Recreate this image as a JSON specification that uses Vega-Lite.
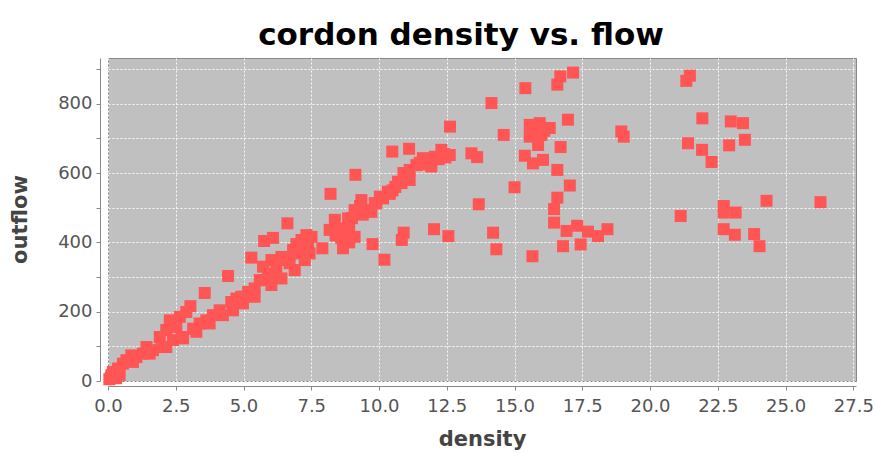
{
  "$schema": "https://vega.github.io/schema/vega-lite/v6.json",
  "autosize": {"type": "none"},
  "padding": {"left": 108, "top": 58, "right": 19, "bottom": 72},
  "width": 748,
  "height": 323,
  "background": "white",
  "title": {
    "text": "cordon density vs. flow",
    "font": "DejaVu Sans",
    "fontSize": 31,
    "fontWeight": "bold",
    "color": "#000000",
    "anchor": "middle",
    "baseline": "alphabetic",
    "offset": 15,
    "dy": 33,
    "dx": -21
  },
  "config": {
    "view": {"stroke": "#888888", "strokeWidth": 1, "fill": "#c0c0c0"},
    "axis": {
      "labelFont": "DejaVu Sans",
      "labelFontSize": 18,
      "labelColor": "#555555",
      "titleFont": "DejaVu Sans",
      "titleFontSize": 21,
      "titleFontWeight": "bold",
      "titleColor": "#444444",
      "domainColor": "#888888",
      "tickColor": "#888888",
      "gridColor": "#ffffff",
      "gridDash": [2, 2],
      "gridOpacity": 0.9,
      "gridWidth": 1
    }
  },
  "data": {
    "values": [
      {"density": 21.47, "outflow": 881}, {"density": 21.34, "outflow": 866}, {"density": 21.93, "outflow": 758},
      {"density": 22.98, "outflow": 749}, {"density": 23.43, "outflow": 744}, {"density": 21.40, "outflow": 686},
      {"density": 23.50, "outflow": 696}, {"density": 22.92, "outflow": 680}, {"density": 21.92, "outflow": 667},
      {"density": 22.27, "outflow": 632}, {"density": 24.30, "outflow": 520}, {"density": 26.29, "outflow": 516},
      {"density": 21.13, "outflow": 476}, {"density": 22.72, "outflow": 505}, {"density": 22.72, "outflow": 486},
      {"density": 23.16, "outflow": 486}, {"density": 22.72, "outflow": 438}, {"density": 23.13, "outflow": 422},
      {"density": 23.84, "outflow": 424}, {"density": 24.04, "outflow": 389},
      {"density": 17.16, "outflow": 890}, {"density": 16.69, "outflow": 879}, {"density": 16.58, "outflow": 855},
      {"density": 15.40, "outflow": 845}, {"density": 16.97, "outflow": 754}, {"density": 18.94, "outflow": 720},
      {"density": 19.03, "outflow": 705}, {"density": 15.56, "outflow": 739}, {"density": 15.93, "outflow": 744},
      {"density": 16.30, "outflow": 730}, {"density": 15.56, "outflow": 705}, {"density": 15.99, "outflow": 710},
      {"density": 15.87, "outflow": 681}, {"density": 15.68, "outflow": 720}, {"density": 15.75, "outflow": 725},
      {"density": 16.10, "outflow": 722}, {"density": 16.70, "outflow": 675}, {"density": 15.38, "outflow": 650},
      {"density": 15.68, "outflow": 628}, {"density": 16.05, "outflow": 638}, {"density": 16.58, "outflow": 609},
      {"density": 15.00, "outflow": 559}, {"density": 17.04, "outflow": 564}, {"density": 16.58, "outflow": 529},
      {"density": 16.46, "outflow": 496}, {"density": 16.46, "outflow": 457}, {"density": 16.92, "outflow": 433},
      {"density": 17.31, "outflow": 448}, {"density": 17.71, "outflow": 431}, {"density": 18.08, "outflow": 418},
      {"density": 18.43, "outflow": 438}, {"density": 16.79, "outflow": 389}, {"density": 17.44, "outflow": 394},
      {"density": 15.66, "outflow": 360},
      {"density": 14.15, "outflow": 802}, {"density": 12.62, "outflow": 734}, {"density": 14.60, "outflow": 710},
      {"density": 10.49, "outflow": 662}, {"density": 11.11, "outflow": 670}, {"density": 13.41, "outflow": 657},
      {"density": 13.62, "outflow": 646}, {"density": 12.61, "outflow": 652}, {"density": 12.30, "outflow": 667},
      {"density": 12.06, "outflow": 647}, {"density": 11.81, "outflow": 638}, {"density": 11.62, "outflow": 643},
      {"density": 11.93, "outflow": 619}, {"density": 11.38, "outflow": 623}, {"density": 11.13, "outflow": 609},
      {"density": 10.95, "outflow": 590}, {"density": 10.83, "outflow": 571}, {"density": 11.13, "outflow": 580},
      {"density": 10.33, "outflow": 546}, {"density": 10.15, "outflow": 527}, {"density": 9.90, "outflow": 513},
      {"density": 9.72, "outflow": 488}, {"density": 12.40, "outflow": 655}, {"density": 11.50, "outflow": 630},
      {"density": 11.00, "outflow": 600}, {"density": 10.60, "outflow": 560}, {"density": 10.50, "outflow": 550},
      {"density": 12.20, "outflow": 640}, {"density": 13.68, "outflow": 510}, {"density": 10.91, "outflow": 428},
      {"density": 10.84, "outflow": 407}, {"density": 12.03, "outflow": 438}, {"density": 12.56, "outflow": 418},
      {"density": 14.21, "outflow": 428}, {"density": 14.33, "outflow": 380}, {"density": 9.76, "outflow": 395},
      {"density": 10.20, "outflow": 350}, {"density": 10.70, "outflow": 575}, {"density": 10.40, "outflow": 540},
      {"density": 10.90, "outflow": 600}, {"density": 11.70, "outflow": 625}, {"density": 12.45, "outflow": 645},
      {"density": 9.13, "outflow": 595}, {"density": 8.21, "outflow": 540}, {"density": 6.62, "outflow": 455},
      {"density": 5.76, "outflow": 404}, {"density": 6.09, "outflow": 413}, {"density": 5.29, "outflow": 356},
      {"density": 7.91, "outflow": 383}, {"density": 9.35, "outflow": 522}, {"density": 9.10, "outflow": 493},
      {"density": 9.59, "outflow": 493}, {"density": 8.86, "outflow": 469}, {"density": 8.37, "outflow": 465},
      {"density": 8.18, "outflow": 436}, {"density": 8.61, "outflow": 412}, {"density": 9.10, "outflow": 416},
      {"density": 8.67, "outflow": 383}, {"density": 10.03, "outflow": 532}, {"density": 9.84, "outflow": 513},
      {"density": 8.90, "outflow": 450}, {"density": 8.50, "outflow": 440}, {"density": 9.30, "outflow": 505},
      {"density": 8.80, "outflow": 430}, {"density": 9.00, "outflow": 470}, {"density": 9.40, "outflow": 480},
      {"density": 8.40, "outflow": 420}, {"density": 8.90, "outflow": 400},
      {"density": 7.32, "outflow": 421}, {"density": 7.38, "outflow": 387}, {"density": 7.07, "outflow": 368},
      {"density": 6.83, "outflow": 378}, {"density": 6.64, "outflow": 349}, {"density": 6.40, "outflow": 358},
      {"density": 6.21, "outflow": 330}, {"density": 6.03, "outflow": 349}, {"density": 5.90, "outflow": 310},
      {"density": 5.72, "outflow": 330}, {"density": 5.60, "outflow": 291}, {"density": 5.78, "outflow": 291},
      {"density": 5.41, "outflow": 267}, {"density": 5.17, "outflow": 257}, {"density": 4.92, "outflow": 243},
      {"density": 4.74, "outflow": 238}, {"density": 5.41, "outflow": 243}, {"density": 6.03, "outflow": 277},
      {"density": 6.40, "outflow": 296}, {"density": 6.89, "outflow": 320}, {"density": 7.26, "outflow": 349},
      {"density": 7.44, "outflow": 368}, {"density": 7.14, "outflow": 407}, {"density": 7.51, "outflow": 416},
      {"density": 6.95, "outflow": 395}, {"density": 6.70, "outflow": 340}, {"density": 6.20, "outflow": 300},
      {"density": 4.43, "outflow": 303}, {"density": 3.57, "outflow": 254}, {"density": 3.04, "outflow": 216},
      {"density": 4.98, "outflow": 243}, {"density": 4.55, "outflow": 228}, {"density": 4.12, "outflow": 204},
      {"density": 3.87, "outflow": 190}, {"density": 3.63, "outflow": 175}, {"density": 3.38, "outflow": 166},
      {"density": 3.14, "outflow": 151}, {"density": 2.65, "outflow": 185}, {"density": 2.52, "outflow": 156},
      {"density": 2.71, "outflow": 127}, {"density": 2.40, "outflow": 118}, {"density": 2.15, "outflow": 147},
      {"density": 1.91, "outflow": 127}, {"density": 1.97, "outflow": 98}, {"density": 1.66, "outflow": 89},
      {"density": 1.42, "outflow": 98}, {"density": 1.29, "outflow": 79}, {"density": 1.05, "outflow": 69},
      {"density": 0.86, "outflow": 74}, {"density": 0.68, "outflow": 60}, {"density": 0.55, "outflow": 50},
      {"density": 0.37, "outflow": 36}, {"density": 0.18, "outflow": 26}, {"density": 0.13, "outflow": 17},
      {"density": 0.43, "outflow": 17}, {"density": 0.25, "outflow": 20}, {"density": 2.28, "outflow": 175},
      {"density": 2.89, "outflow": 199}, {"density": 0.92, "outflow": 55}, {"density": 1.54, "outflow": 79},
      {"density": 2.15, "outflow": 98}, {"density": 2.77, "outflow": 123}, {"density": 3.26, "outflow": 142},
      {"density": 3.75, "outflow": 166}, {"density": 4.24, "outflow": 190}, {"density": 4.61, "outflow": 204},
      {"density": 4.98, "outflow": 224}, {"density": 0.05, "outflow": 5}, {"density": 0.10, "outflow": 10},
      {"density": 0.30, "outflow": 8}
    ]
  },
  "mark": {"type": "point", "shape": "square", "filled": true, "size": 144, "color": "#ff5555", "opacity": 1, "strokeWidth": 0},
  "encoding": {
    "x": {
      "field": "density",
      "type": "quantitative",
      "scale": {"domain": [0, 27.6], "nice": false, "zero": false},
      "axis": {
        "title": "density",
        "values": [0, 2.5, 5, 7.5, 10, 12.5, 15, 17.5, 20, 22.5, 25, 27.5],
        "format": ".1f",
        "offset": 5,
        "tickSize": 4,
        "labelPadding": 7,
        "labelFlush": false,
        "labelOverlap": false,
        "titleBaseline": "alphabetic",
        "titleY": 59
      }
    },
    "y": {
      "field": "outflow",
      "type": "quantitative",
      "scale": {"domain": [0, 932], "nice": false},
      "axis": {
        "title": "outflow",
        "values": [0, 100, 200, 300, 400, 500, 600, 700, 800, 900],
        "labelExpr": "datum.value % 200 == 0 ? datum.label : ''",
        "offset": 8,
        "tickSize": 4,
        "labelPadding": 4,
        "labelFlush": false,
        "labelOverlap": false,
        "titleAngle": -90,
        "titleAlign": "center",
        "titleBaseline": "alphabetic",
        "titleX": -74,
        "titleY": 161
      }
    }
  }
}
